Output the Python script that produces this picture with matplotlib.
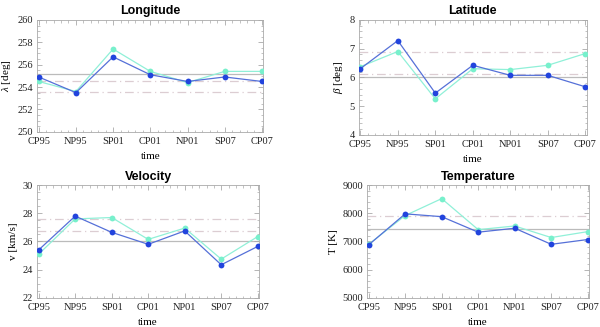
import matplotlib
matplotlib.use("Agg")
import matplotlib.pyplot as plt
from matplotlib.ticker import MultipleLocator, AutoMinorLocator

categories = ["CP95", "NP95", "SP01", "CP01", "NP01", "SP07", "CP07"]

lon_a = [254.9, 253.5, 256.7, 255.1, 254.5, 254.9, 254.5]
lon_b = [254.5, 253.6, 257.4, 255.4, 254.4, 255.4, 255.4]
lon_solid = 255.2
lon_dashed = [254.5, 253.6]

lat_a = [6.3, 7.28, 5.45, 6.42, 6.07, 6.07, 5.67]
lat_b = [6.37, 6.9, 5.25, 6.3, 6.27, 6.42, 6.83]
lat_solid = 6.0
lat_dashed = [6.1, 6.9]

vel_a = [25.4, 27.8, 26.65, 25.8, 26.75, 24.35, 25.65]
vel_b = [25.1, 27.6, 27.7, 26.15, 26.95, 24.75, 26.35]
vel_solid = 26.0
vel_dashed = [26.75, 27.6]

tem_a = [6880, 7980, 7880, 7330, 7470, 6900, 7070]
tem_b = [6900, 7920, 8520, 7420, 7550, 7140, 7350]
tem_solid = 7450
tem_dashed = [7900]

titles = ["Longitude", "Latitude", "Velocity", "Temperature"]
ylabels = [r"$\lambda$ [deg]", r"$\beta$ [deg]", "v [km/s]", "T [K]"]

SERIF = "Liberation Serif"
SANS = "Liberation Sans"
dark = "#2244dd"
dark_line = "#5570d8"
cyan = "#78f0cc"
cyan_line = "#90f0d8"

fig = plt.figure(figsize=(6.0, 3.27), dpi=100)
positions = [
    [0.062, 0.597, 0.377, 0.342],
    [0.598, 0.588, 0.380, 0.351],
    [0.062, 0.089, 0.370, 0.345],
    [0.612, 0.089, 0.370, 0.345],
]
panels = [
    (lon_a, lon_b, lon_solid, lon_dashed, (250, 260), 2, 0.5),
    (lat_a, lat_b, lat_solid, lat_dashed, (4, 8), 1, 0.2),
    (vel_a, vel_b, vel_solid, vel_dashed, (22, 30), 2, 0.5),
    (tem_a, tem_b, tem_solid, tem_dashed, (5000, 9000), 1000, 200),
]

plt.rcParams["mathtext.fontset"] = "custom"
plt.rcParams["mathtext.it"] = "Liberation Serif:italic"
plt.rcParams["mathtext.rm"] = "Liberation Serif"

x = list(range(len(categories)))
for i, (a, b, solid, dashed, ylim, maj, mnr) in enumerate(panels):
    ax = fig.add_axes(positions[i])
    ax.axhline(solid, color="#bbbbbb", lw=0.9, zorder=1)
    for d in dashed:
        ax.axhline(d, color="#dccdd2", lw=0.9, ls=(0, (7, 3, 1, 3)), zorder=1)
    ax.plot(x, b, color=cyan_line, lw=0.9, zorder=2)
    ax.plot(x, b, "o", color=cyan, ms=4.2, zorder=3, mec="none")
    ax.plot(x, a, color=dark_line, lw=0.9, zorder=4)
    ax.plot(x, a, "o", color=dark, ms=4.2, zorder=5, mec="none")
    ax.set_xlim(-0.04, 6.04)
    ax.set_ylim(*ylim)
    ax.set_xticks(x)
    ax.set_xticklabels(categories, family=SERIF, fontsize=7.5)
    ax.yaxis.set_major_locator(MultipleLocator(maj))
    ax.yaxis.set_minor_locator(MultipleLocator(mnr))
    ax.xaxis.set_minor_locator(AutoMinorLocator(5))
    for lab in ax.get_yticklabels():
        lab.set_family(SERIF)
        lab.set_fontsize(7.5)
    ax.tick_params(which="both", direction="in", top=True, right=True,
                   color="#aaaaaa", labelcolor="#222222")
    ax.tick_params(axis="y", pad=3)
    ax.tick_params(axis="x", pad=4)
    ax.tick_params(which="major", length=3.5, width=0.6)
    ax.tick_params(which="minor", length=1.8, width=0.5)
    for s in ax.spines.values():
        s.set_color("#aaaaaa")
        s.set_linewidth(0.6)
    ax.set_title(titles[i], family=SANS, fontweight="bold", fontsize=9, pad=4)
    ax.set_ylabel(ylabels[i], family=SERIF, fontsize=8, labelpad=3)
    ax.set_xlabel("time", family=SERIF, fontsize=8, labelpad=4)

fig.savefig("out.png", dpi=100)
